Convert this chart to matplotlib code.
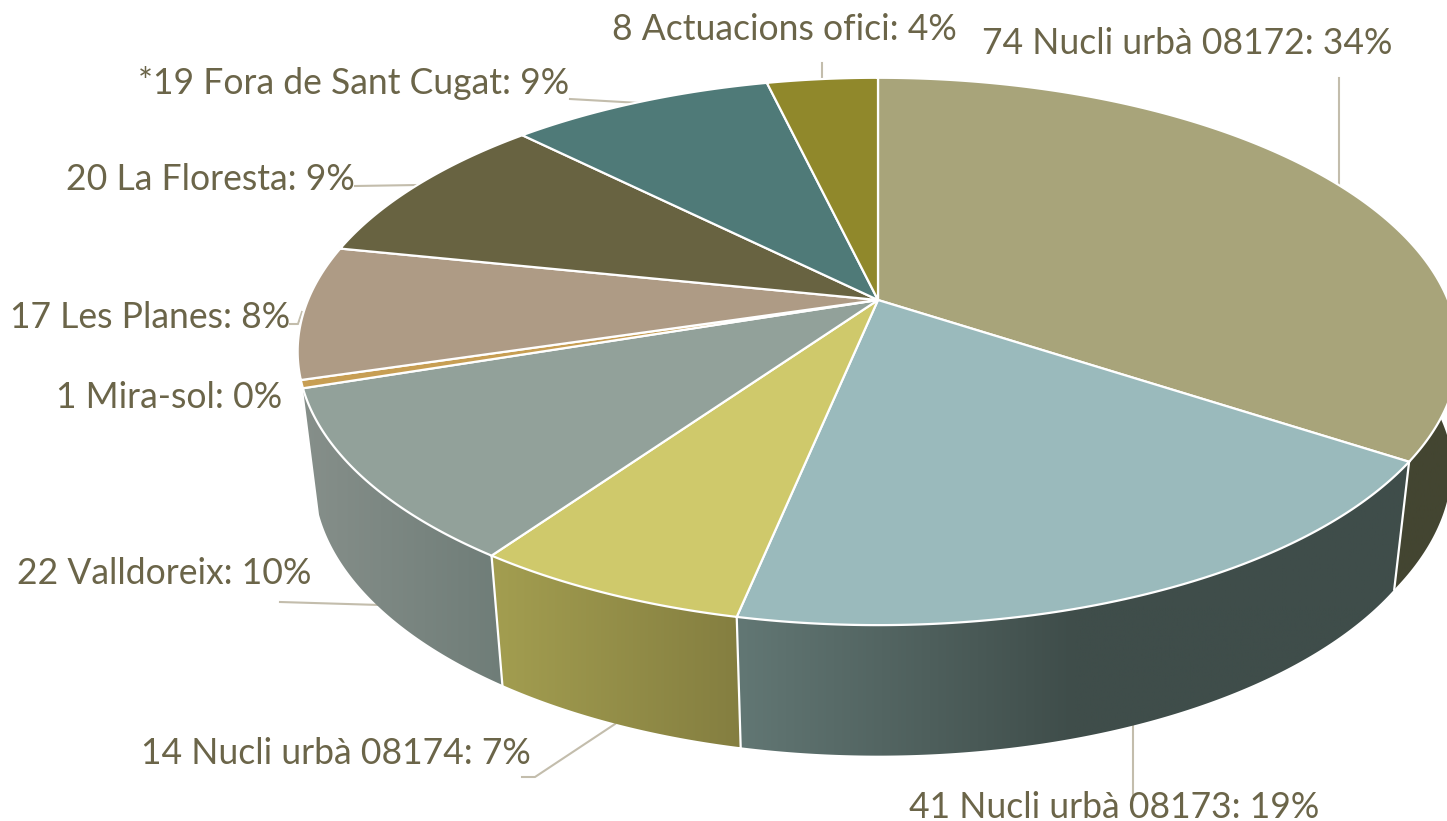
import numpy as np
import matplotlib
matplotlib.use("Agg")
import matplotlib.pyplot as plt
from matplotlib.colors import LinearSegmentedColormap
from matplotlib.patches import Polygon

counts = [74, 41, 14, 22, 1, 17, 20, 19, 8]
names = ["Nucli urbà 08172", "Nucli urbà 08173", "Nucli urbà 08174", "Valldoreix",
         "Mira-sol", "Les Planes", "La Floresta", "Fora de Sant Cugat", "Actuacions ofici"]
prefixes = ["", "", "", "", "", "", "", "*", ""]
shown_pct = [34, 19, 7, 10, 0, 8, 9, 9, 4]

top_colors = ["#A8A47A", "#9ABABC", "#CFC96B", "#92A19A", "#C79E53",
              "#AE9B85", "#686341", "#4F7A78", "#90882B"]
# side wall gradients, only the front slices show a wall
side_colors = {
    0: ["#434531", "#434531"],
    1: ["#627774", "#3F4D4A", "#3F4D4A"],
    2: ["#A39E50", "#847E40"],
    3: ["#868F8A", "#6F7D78"],
}

# label centres and leader lines, in pixels
label_pos = [(1187, 44), (1114, 807), (336, 754), (164, 574), (169, 397),
             (150, 318), (210, 179), (354, 83), (784, 30)]
leaders = [
    [(1339, 78), (1339, 185)],
    [(1133, 726), (1133, 800)],
    [(522, 777), (535, 777), (615, 724)],
    [(280, 602), (380, 605)],
    None,
    [(290, 324), (298, 324), (302, 312)],
    [(355, 186), (418, 185)],
    [(570, 99), (640, 103)],
    [(822, 63), (822, 78)],
]

text_col = "#6B6549"
line_col = "#C3BDAC"

# perspective of the pie disc
cx, cy = 878, 300
W, H, p = 570, 264, 0.188


def top_pts(theta):
    u, v = np.sin(theta), np.cos(theta)
    d = 1 + p * v
    return cx + W * u / d, cy - H * v / d


def bottom_pts(theta):
    x, y = top_pts(theta)
    # the lower rim bulges out a bit more on the far right
    sx = 0.972 + 0.02 * np.clip((2.15 - theta) / 0.5, 0, 1)
    return cx + sx * (x - cx), 425 + 1.017 * (y - cy)


fig = plt.figure(figsize=(14.47, 8.21), dpi=100)
ax = fig.add_axes([0, 0, 1, 1])

fracs = np.array(counts) / sum(counts)
edges = np.concatenate([[0], np.cumsum(fracs)]) * 2 * np.pi

# side walls first
for i, cols in side_colors.items():
    th = np.linspace(edges[i], edges[i + 1], 200)
    xt, yt = top_pts(th)
    xb, yb = bottom_pts(th)
    pts = np.column_stack([np.r_[xt, xb[::-1]], np.r_[yt, yb[::-1]]])
    cmap = LinearSegmentedColormap.from_list("side%d" % i, cols)
    grad = np.linspace(0, 1, 256).reshape(1, -1)
    poly = Polygon(pts, closed=True, facecolor="none", edgecolor="none", transform=ax.transData)
    ax.add_patch(poly)
    im = ax.imshow(grad, cmap=cmap, aspect="auto", zorder=1,
                   extent=[pts[:, 0].min(), pts[:, 0].max(), pts[:, 1].max(), pts[:, 1].min()])
    im.set_clip_path(poly)

# white dividers on the walls
for i in [1, 2, 3]:
    xt, yt = top_pts(edges[i])
    xb, yb = bottom_pts(edges[i])
    ax.plot([xt, xb], [yt, yb], color="white", lw=1.6, zorder=2)

# top faces
for i, c in enumerate(top_colors):
    th = np.linspace(edges[i], edges[i + 1], 200)
    xt, yt = top_pts(th)
    pts = np.column_stack([np.r_[cx, xt], np.r_[cy, yt]])
    ax.add_patch(Polygon(pts, closed=True, facecolor=c, edgecolor="white", lw=1.6, zorder=3))

for seg in leaders:
    if seg:
        xs, ys = zip(*seg)
        ax.plot(xs, ys, color=line_col, lw=1.5, zorder=0)

for i, name in enumerate(names):
    txt = "%s%d %s: %d%%" % (prefixes[i], counts[i], name, shown_pct[i])
    ax.text(label_pos[i][0], label_pos[i][1], txt, ha="center", va="center",
            fontsize=25.6, family="Lato", color=text_col, zorder=5)

ax.set_xlim(0, 1447)
ax.set_ylim(821, 0)
ax.axis("off")
fig.savefig("out.png", dpi=100)
